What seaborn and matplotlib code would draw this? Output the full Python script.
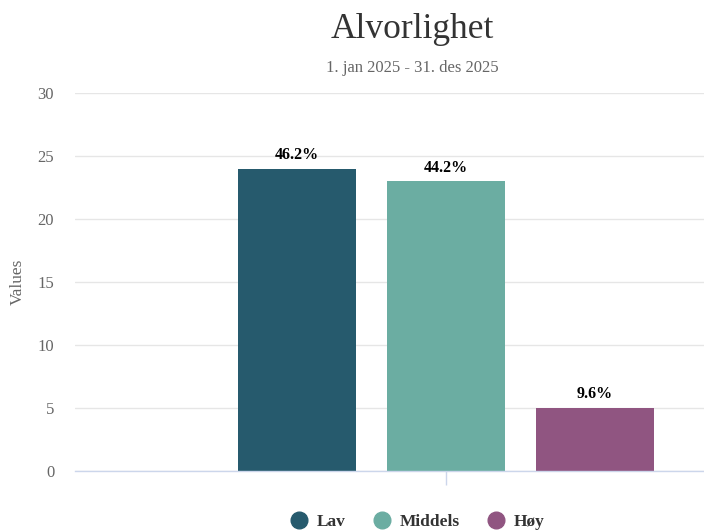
import matplotlib
matplotlib.use("Agg")
import matplotlib.pyplot as plt
from matplotlib.lines import Line2D
import seaborn as sns
import pandas as pd

# data
series_names = ["Lav", "Middels", "Høy"]
series_values = [24, 23, 5]
series_colors = ["#265a6d", "#6badA2", "#905581"]
y_ticks = [0, 5, 10, 15, 20, 25, 30]
title = "Alvorlighet"
subtitle = "1. jan 2025 - 31. des 2025"

total = sum(series_values)
pct_labels = [f"{v / total * 100:.1f}%" for v in series_values]

df = pd.DataFrame({"cat": [""] * len(series_names),
                   "serie": series_names,
                   "value": series_values})

sns.set_theme(style="white")
plt.rcParams["font.family"] = ["Liberation Serif", "DejaVu Serif"]

W, H = 704, 530
fig = plt.figure(figsize=(W / 100, H / 100), dpi=100)
# plot area: left 75px, top 93px, bottom 471px, right edge cut at image border
ax = fig.add_axes([75 / W, 1 - 471 / H, (W - 75) / W, (471 - 93) / H])

sns.barplot(data=df, x="cat", y="value", hue="serie", hue_order=series_names,
            palette=series_colors, width=3.0, gap=0.21, saturation=1,
            legend=False, ax=ax, zorder=3, linewidth=0)

# one slot = 149px, category centre at 446px
ax.set_xlim((75 - 446) / 149, (704 - 446) / 149)
ax.set_ylim(0, 30)
ax.set_yticks(y_ticks)
ax.yaxis.grid(True, color="#e6e6e6", linewidth=1, zorder=0)
ax.xaxis.grid(False)
for s in ["top", "right", "left"]:
    ax.spines[s].set_visible(False)
ax.spines["bottom"].set_color("#ccd6eb")
ax.spines["bottom"].set_linewidth(1)
ax.spines["bottom"].set_zorder(4)

ax.tick_params(axis="y", length=0, pad=15, labelsize=12, labelcolor="#666666")
ax.tick_params(axis="x", length=10, width=1, color="#ccd6eb", labelbottom=False,
               bottom=True)
ax.set_xlabel("")
ax.set_ylabel("")
fig.text(18 / W, 1 - 282 / H, "Values", rotation=90, ha="center", va="center",
         fontsize=12.5, color="#666666")

# data labels
for bar, lab in zip(ax.patches, pct_labels):
    ax.annotate(lab, (bar.get_x() + bar.get_width() / 2, bar.get_height()),
                xytext=(0, 4), textcoords="offset points", ha="center",
                va="bottom", fontsize=11.5, fontweight="bold", color="black")

fig.text(412 / W, 1 - 30 / H, title, ha="center", va="center",
         fontsize=25.5, color="#333333")
fig.text(412 / W, 1 - 68 / H, subtitle, ha="center", va="center",
         fontsize=12, color="#666666")

handles = [Line2D([], [], marker="o", linestyle="", markersize=12,
                  markerfacecolor=c, markeredgecolor=c) for c in series_colors]
fig.legend(handles, series_names, loc="center", bbox_to_anchor=(413 / W, 1 - 522 / H),
           ncol=3, frameon=False, handletextpad=0.0, columnspacing=1.1,
           prop={"weight": "bold", "size": 12.5}, labelcolor="#333333")

fig.savefig("out.png", dpi=100)
